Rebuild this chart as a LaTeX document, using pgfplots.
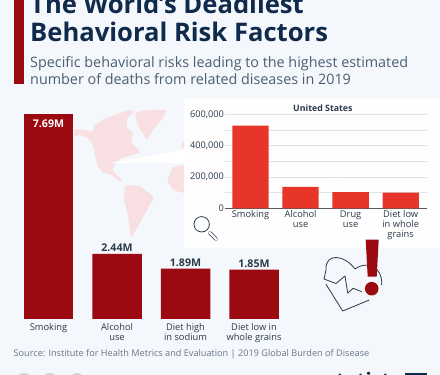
\documentclass[border=0pt]{standalone}
\usepackage{fontspec}
\setmainfont{Open Sans}
\usepackage{pgfplots}
\pgfplotsset{compat=1.18}
\definecolor{bgc}{HTML}{F4F7FB}
\definecolor{dred}{HTML}{9B0A10}
\definecolor{lred}{HTML}{E8352A}
\definecolor{navy}{HTML}{0F2A4A}
\definecolor{subc}{HTML}{4C5F73}
\definecolor{mapc}{HTML}{F8DFE1}
\definecolor{txt}{HTML}{2B3A4A}
\definecolor{gridc}{HTML}{DDE3EA}
\begin{document}
\begin{tikzpicture}
\useasboundingbox (0,0) rectangle (440pt,375pt);
\clip (0,0) rectangle (440pt,375pt);
\begin{scope}[x=1pt,y=-1pt,yshift=375pt]
\fill[bgc] (0,0) rectangle (440,375);
% map
\begin{scope}[rounded corners=1.5pt]
\fill[mapc] (74,129) -- (83,130) -- (93,132) -- (94,125) -- (107,118) -- (115,115) -- (128,110) -- (135,111) -- (128,117) -- (126,127) -- (133,133) -- (131,142) -- (140,152) -- (133,155) -- (122,158) -- (115,163) -- (112,170) -- (117,175) -- (123,180) -- (120,182) -- (112,175) -- (102,172) -- (97,165) -- (95,155) -- (93,145) -- (88,138) -- (80,135) -- (74,137) -- cycle;
\fill[mapc] (135,113) -- (147,110) -- (167,110) -- (163,118) -- (155,127) -- (147,140) -- (142,132) -- (137,123) -- cycle;
\fill[mapc] (125,185) -- (140,186) -- (154,197) -- (148,208) -- (140,223) -- (135,232) -- (131,238) -- (128,215) -- (124,200) -- cycle;
\fill[mapc] (167,180) -- (173,167) -- (184,165) -- (215,160) -- (240,170) -- (260,190) -- (250,205) -- (245,230) -- (225,245) -- (215,215) -- (205,195) -- (184,193) -- (173,190) -- cycle;
\fill[mapc] (180,146) -- (184,140) -- (200,130) -- (240,120) -- (300,110) -- (360,125) -- (370,150) -- (340,180) -- (310,190) -- (290,175) -- (250,165) -- (200,160) -- cycle;
\end{scope}
\fill[white] (108,163) -- (184,150) -- (184,163) -- cycle;
% inset panel
\fill[white,opacity=.92,rounded corners=4pt] (184,98) rectangle (445,248);
% header
\fill[dred] (13.5,-2) rectangle (24,84.5);
\node[anchor=base west,inner sep=0,text=navy,font=\fontsize{25.6}{28}\selectfont\bfseries] at (30,14) {The World's Deadliest};
\node[anchor=base west,inner sep=0,text=navy,font=\fontsize{25.6}{28}\selectfont\bfseries] at (30,42) {Behavioral Risk Factors};
\node[anchor=base west,inner sep=0,text=subc,font=\fontsize{14.35}{14}\selectfont] at (30,67.5) {Specific behavioral risks leading to the highest estimated};
\node[anchor=base west,inner sep=0,text=subc,font=\fontsize{14.35}{14}\selectfont] at (30,85) {number of deaths from related diseases in 2019};
% source
\node[anchor=base west,inner sep=0,text=subc!85,font=\fontsize{9.15}{9.2}\selectfont] at (13.5,357) {Source: Institute for Health Metrics and Evaluation | 2019 Global Burden of Disease};
% footer
\fill[black!18] (24,380) circle (7);
\fill[black!18] (50,380) circle (7);
\fill[black!18] (77,380) circle (7);
\node[anchor=base west,inner sep=0,text=navy,font=\fontsize{20}{20}\selectfont\bfseries] at (326,388) {statista};
\fill[navy] (405,373) rectangle (427,376);
% heart
\draw[txt,line width=.8pt,line join=round] (355,269) .. controls (345,255) and (325,252) .. (326,270) -- (324,279) -- (336,283.5) -- (345,276) -- (347.7,293) -- (353.3,288.3) -- (361.7,291.7);
\draw[txt,line width=.8pt,line join=round] (326,284.3) -- (342.7,311) -- (369.3,300);
\draw[txt,line width=.8pt] (355,269) .. controls (365,262) and (375,265) .. (380,274) .. controls (382,280) and (382,283) .. (381.5,285);
% exclamation
\fill[dred] (365.7,239.7) -- (378.7,239.7) -- (376.7,276.7) -- (367.7,276.7) -- cycle;
\fill[dred] (371.7,288.7) circle (6.8);
% magnifier
\draw[txt,line width=.8pt] (201.7,224.3) circle (7.7);
\draw[txt,line width=3.8pt,line cap=round] (210,233) -- (216,239);
\draw[white,line width=2.2pt,line cap=round] (210,233) -- (216,239);
\end{scope}
% main chart
\begin{axis}[
  at={(14.25pt,56pt)},anchor=south west,scale only axis,width=274pt,height=205pt,
  xmin=-0.5,xmax=3.5,ymin=0,ymax=7.69,
  ybar,bar width=49.5pt,bar shift=0pt,
  axis line style={draw=none},major tick length=0pt,ytick=\empty,
  xtick={0,1,2,3},
  xticklabels={Smoking,{Alcohol\\use},{Diet high\\in sodium},{Diet low in\\whole grains}},
  xticklabel style={align=center,font=\fontsize{9.3}{10}\selectfont,text=txt,yshift=-1pt},
  nodes near coords={\pgfmathprintnumber[fixed,precision=2,fixed zerofill,assume math mode=true]{\pgfplotspointmeta}M},
  clip=false,
]
\addplot[fill=dred,draw=none,nodes near coords style={font=\fontsize{10.6}{10}\selectfont\bfseries,text=white,anchor=north,inner sep=2pt,yshift=-4pt}] coordinates {(0,7.69)};
\addplot[fill=dred,draw=none,nodes near coords style={font=\fontsize{10.6}{10}\selectfont\bfseries,text=txt,inner sep=2pt}] coordinates {(1,2.44) (2,1.89) (3,1.85)};
\end{axis}
% inset chart
\begin{axis}[
  at={(225pt,166.7pt)},anchor=south west,scale only axis,width=201.7pt,height=94pt,
  xmin=-0.51,xmax=3.52,ymin=0,ymax=600000,
  ybar,bar width=36.3pt,bar shift=0pt,
  axis x line*=bottom,axis y line*=left,
  y axis line style={draw=none},x axis line style={draw=black!65,-},
  major tick length=0pt,minor tick length=0pt,
  ytick={0,200000,400000,600000},minor y tick num=1,
  ymajorgrids,yminorgrids,grid style={gridc,line width=.8pt},
  minor grid style={gridc,line width=.8pt},
  scaled y ticks=false,
  yticklabel style={/pgf/number format/fixed,/pgf/number format/1000 sep={,},/pgf/number format/assume math mode=true,font=\fontsize{9.2}{10}\selectfont,text=txt,xshift=2.5pt},
  xtick={0,1,2,3},
  xticklabels={Smoking,{Alcohol\\use},{Drug\\use},{Diet low\\in whole\\grains}},
  xticklabel style={align=center,font=\fontsize{9.3}{10}\selectfont,text=txt,yshift=1pt},
  title={United States},title style={font=\fontsize{8.8}{8}\selectfont\bfseries,text=txt,yshift=-7pt,xshift=-3pt},
]
\addplot[fill=lred,draw=none] coordinates {(0,527000) (1,136000) (2,104000) (3,100000)};
\end{axis}
\end{tikzpicture}
\end{document}
